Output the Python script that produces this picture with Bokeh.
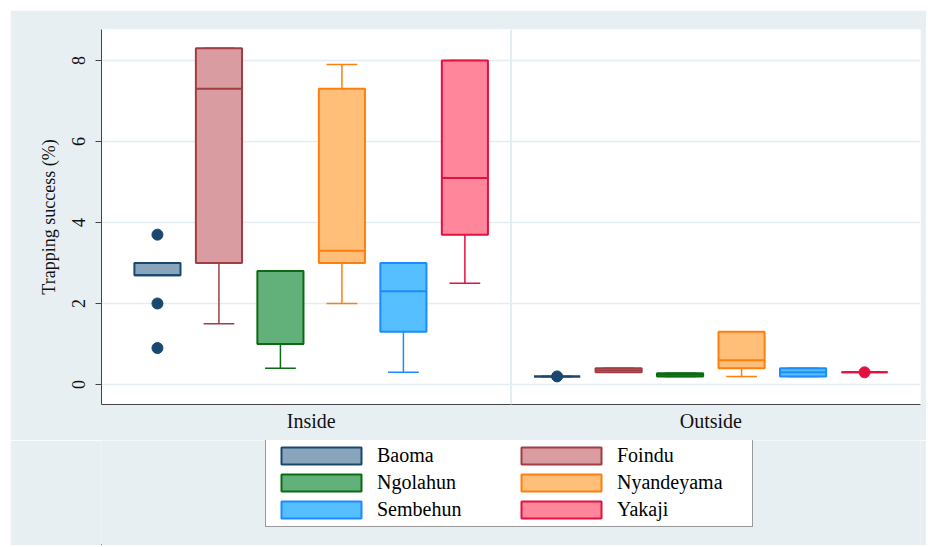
from bokeh.plotting import figure
from bokeh.layouts import column
from bokeh.models import (Range1d, FixedTicker, CustomJSTickFormatter, Legend,
                          LegendItem, Span)
from bokeh.embed import file_html
from bokeh.resources import INLINE

# ---------------- data ----------------
villages = ["Baoma", "Foindu", "Ngolahun", "Nyandeyama", "Sembehun", "Yakaji"]
groups = ["Inside", "Outside"]

line_colors = ["#1a476f", "#a23d44", "#0b6b12", "#ff7f0e", "#1a8cff", "#e4103f"]
fill_colors = ["#88a5bb", "#d99da1", "#63b17a", "#ffbf79", "#55bfff", "#ff869b"]

inside_lo  = [2.7, 1.5, 0.4, 2.0, 0.3, 2.5]
inside_q1  = [2.7, 3.0, 1.0, 3.0, 1.3, 3.7]
inside_med = [2.7, 7.3, 1.0, 3.3, 2.3, 5.1]
inside_q3  = [3.0, 8.3, 2.8, 7.3, 3.0, 8.0]
inside_hi  = [3.0, 8.3, 2.8, 7.9, 3.0, 8.0]
inside_out = [[0.9, 2.0, 3.7], [], [], [], [], []]

outside_lo  = [0.2, 0.3, 0.2, 0.2, 0.2, 0.3]
outside_q1  = [0.2, 0.3, 0.2, 0.4, 0.2, 0.3]
outside_med = [0.2, 0.35, 0.24, 0.6, 0.3, 0.3]
outside_q3  = [0.2, 0.4, 0.28, 1.3, 0.4, 0.3]
outside_hi  = [0.2, 0.4, 0.28, 1.3, 0.4, 0.3]
outside_out = [[0.2], [], [], [], [], [0.3]]

y_ticks = [0, 2, 4, 6, 8]

stats = {
    "Inside": (inside_lo, inside_q1, inside_med, inside_q3, inside_hi, inside_out),
    "Outside": (outside_lo, outside_q1, outside_med, outside_q3, outside_hi, outside_out),
}

# ---------------- layout constants ----------------
FONT = "Liberation Serif"
BG = "#e8eff2"
GRID = "#e4eef2"
BOX_W = 0.75
CAP_W = 0.5
GAP = 0.5
n = len(villages)
W = 916
LEFT = 91

p = figure(width=W, height=430, output_backend="svg", toolbar_location=None,
           x_range=Range1d(0.09, 2 * n + GAP + 0.91),
           y_range=Range1d(-0.494, 8.765),
           min_border_left=LEFT, min_border_top=19, min_border_right=6,
           min_border_bottom=36)
p.margin = (10, 0, 0, 10)
p.background_fill_color = "white"
p.border_fill_color = BG
p.outline_line_color = None
p.xgrid.visible = False
p.ygrid.grid_line_color = GRID
p.ygrid.grid_line_width = 1.5
p.ygrid.ticker = FixedTicker(ticks=y_ticks)

centers = []
for gi, g in enumerate(groups):
    lo, q1, med, q3, hi, outl = stats[g]
    xs = [gi * (n + GAP) + i + 1 for i in range(n)]
    centers.append(sum(xs) / n)
    for i, v in enumerate(villages):
        x = xs[i]
        lc, fc = line_colors[i], fill_colors[i]
        # whiskers
        p.segment(x0=[x, x], y0=[q3[i], q1[i]], x1=[x, x], y1=[hi[i], lo[i]],
                  line_color=lc, line_width=1.5)
        p.segment(x0=[x - CAP_W / 2] * 2, y0=[hi[i], lo[i]],
                  x1=[x + CAP_W / 2] * 2, y1=[hi[i], lo[i]],
                  line_color=lc, line_width=1.5)
        # box
        p.vbar(x=[x], width=BOX_W, bottom=[q1[i]], top=[q3[i]],
               fill_color=fc, line_color=lc, line_width=2)
        # median
        p.segment(x0=[x - BOX_W / 2], y0=[med[i]], x1=[x + BOX_W / 2], y1=[med[i]],
                  line_color=lc, line_width=2)
        # outliers
        if outl[i]:
            p.scatter(x=[x] * len(outl[i]), y=outl[i], size=11,
                      fill_color=lc, line_color=lc)

# separator between groups
sep = (n + (n + GAP + 1)) / 2
p.add_layout(Span(location=sep, dimension="height", line_color=GRID, line_width=2))

# axes
ya = p.yaxis[0]
ya.ticker = FixedTicker(ticks=y_ticks)
ya.axis_label = "Trapping success (%)"
ya.axis_label_text_font = FONT
ya.axis_label_text_font_style = "normal"
ya.axis_label_text_font_size = "18px"
ya.axis_label_standoff = 11
ya.major_label_text_font = FONT
ya.major_label_text_font_size = "18px"
ya.major_label_orientation = "vertical"
ya.major_label_standoff = 10
ya.major_tick_out = 6
ya.major_tick_in = 0
ya.minor_tick_out = 0
ya.minor_tick_in = 0
ya.axis_line_color = "#444444"
ya.major_tick_line_color = "#444444"
ya.major_label_text_color = "#111111"
ya.axis_label_text_color = "#111111"

xa = p.xaxis[0]
xa.ticker = FixedTicker(ticks=centers)
xa.formatter = CustomJSTickFormatter(args=dict(labels=groups, sep=sep),
                                     code="return tick < sep ? labels[0] : labels[1];")
xa.major_label_text_font = FONT
xa.major_label_text_font_size = "20px"
xa.major_label_text_color = "#111111"
xa.major_label_standoff = 5
xa.major_tick_out = 0
xa.major_tick_in = 0
xa.minor_tick_out = 0
xa.minor_tick_in = 0
xa.axis_line_color = "#444444"

# ---------------- legend strip ----------------
p2 = figure(width=W, height=105, output_backend="svg", toolbar_location=None,
            x_range=Range1d(0, 1), y_range=Range1d(0, 1),
            x_axis_location=None, y_axis_location=None,
            min_border_left=LEFT, min_border_right=6, min_border_top=0,
            min_border_bottom=0)
p2.margin = (0, 0, 0, 10)
p2.background_fill_color = BG
p2.border_fill_color = BG
p2.outline_line_color = None
p2.grid.visible = False

# legend key renderers (kept outside the visible range of the strip)
keys = {}
for i, v in enumerate(villages):
    keys[v] = p2.vbar(x=[-5], width=0.1, bottom=[-5], top=[-4],
                      fill_color=fill_colors[i], line_color=line_colors[i],
                      line_width=2)

# row-major order: two villages per row
order = [0, 2, 4, 1, 3, 5]
items = [LegendItem(label=villages[k], renderers=[keys[villages[k]]]) for k in order]
legend = Legend(items=items, ncols=2, location=(255 - LEFT, 18),
                glyph_width=100, glyph_height=21, label_standoff=6,
                label_width=130, spacing=4, padding=5, margin=0,
                label_text_font=FONT, label_text_font_size="20px",
                label_text_color="#000000",
                border_line_color="#333333", border_line_width=1,
                background_fill_color="white", background_fill_alpha=1.0)
p2.add_layout(legend, "center")

layout = column(p, p2, spacing=0)
open("out.html", "w").write(file_html(layout, INLINE))
